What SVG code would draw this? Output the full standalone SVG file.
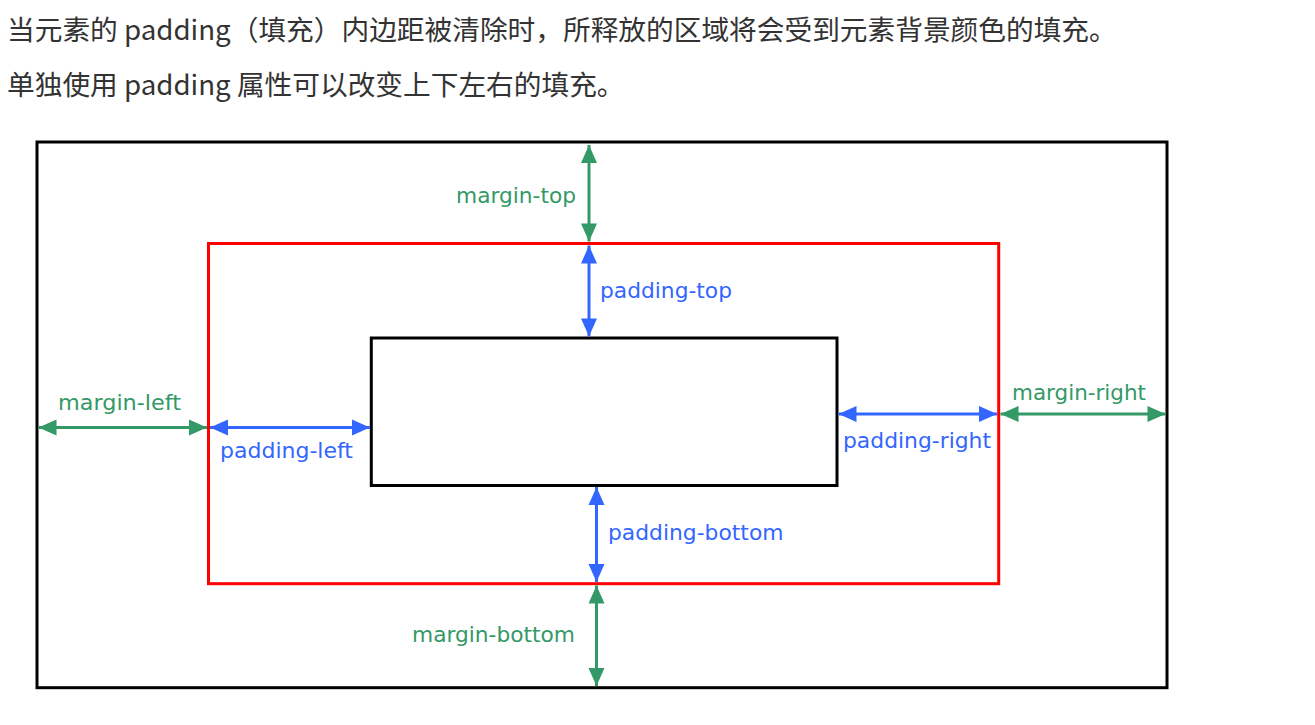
<svg xmlns="http://www.w3.org/2000/svg" width="1315" height="725" viewBox="0 0 1315 725">
<style>
.intro{font-family:"Noto Sans CJK SC","Liberation Sans",sans-serif;font-size:27.7px;fill:#333}
.lbl{font-family:"DejaVu Sans",sans-serif;font-size:21.5px}
.m{fill:#339966}
.p{fill:#3366ff}
.box{fill:none;stroke-width:3}
.ml{stroke:#339966;stroke-width:3;fill:none;marker-start:url(#ag);marker-end:url(#ag)}
.pl{stroke:#3366ff;stroke-width:3;fill:none;marker-start:url(#ab);marker-end:url(#ab)}
</style>
<defs>
<marker id="ag" markerUnits="userSpaceOnUse" markerWidth="20" markerHeight="18" viewBox="0 0 20 18" refX="19" refY="9" orient="auto-start-reverse"><path d="M1,1 L19,9 L1,17 Z" fill="#339966"/></marker>
<marker id="ab" markerUnits="userSpaceOnUse" markerWidth="20" markerHeight="18" viewBox="0 0 20 18" refX="19" refY="9" orient="auto-start-reverse"><path d="M1,1 L19,9 L1,17 Z" fill="#3366ff"/></marker>
</defs>
<rect width="1315" height="725" fill="#fff"/>
<g id="intro">
<text class="intro" x="7" y="40">当元素的 padding（填充）内边距被清除时，所释放的区域将会受到元素背景颜色的填充。</text>
<text class="intro" x="7" y="95">单独使用 padding 属性可以改变上下左右的填充。</text>
</g>
<g id="margin-box"><rect class="box" x="37" y="142" width="1130" height="545.7" stroke="#000"/></g>
<g id="padding-box"><rect class="box" x="208.5" y="243.5" width="790.2" height="340.2" stroke="#ff0000"/></g>
<g id="content-box"><rect class="box" x="371.3" y="338" width="465.7" height="147.5" stroke="#000"/></g>
<g id="connectors">
<path class="ml" d="M589,145 L589,241.5"/>
<path class="pl" d="M589,245.5 L589,336.5"/>
<path class="pl" d="M596.5,487 L596.5,582"/>
<path class="ml" d="M596.5,585.5 L596.5,686"/>
<path class="ml" d="M38.5,427.5 L207,427.5"/>
<path class="pl" d="M210,427.5 L370,427.5"/>
<path class="pl" d="M838.5,414 L997,414"/>
<path class="ml" d="M1000.5,414 L1165.5,414"/>
</g>
<g id="labels">
<text class="lbl m" x="456" y="203" textLength="120" lengthAdjust="spacingAndGlyphs">margin-top</text>
<text class="lbl p" x="600" y="298" textLength="132" lengthAdjust="spacingAndGlyphs">padding-top</text>
<text class="lbl m" x="58" y="410" textLength="123" lengthAdjust="spacingAndGlyphs">margin-left</text>
<text class="lbl p" x="220" y="458" textLength="133" lengthAdjust="spacingAndGlyphs">padding-left</text>
<text class="lbl m" x="1012" y="400" textLength="134" lengthAdjust="spacingAndGlyphs">margin-right</text>
<text class="lbl p" x="843" y="448" textLength="148" lengthAdjust="spacingAndGlyphs">padding-right</text>
<text class="lbl p" x="608" y="540" textLength="175.5" lengthAdjust="spacingAndGlyphs">padding-bottom</text>
<text class="lbl m" x="412" y="641.5" textLength="163" lengthAdjust="spacingAndGlyphs">margin-bottom</text>
</g>
</svg>
